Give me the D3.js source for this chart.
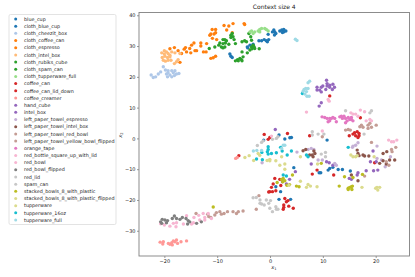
<!DOCTYPE html>
<html>
<head>
<meta charset="utf-8">
<script src="https://cdn.jsdelivr.net/npm/d3@7"></script>
<style>
    html, body { margin: 0; padding: 0; background: #fff; }
    svg { display: block; font-family: "DejaVu Sans", sans-serif; }
</style>
</head>
<body>
<svg id="chart" width="415" height="277"></svg>
<script>
const categories = [
    "blue_cup", "cloth_blue_cup", "cloth_cheezit_box", "cloth_coffee_can", "cloth_espresso",
    "cloth_intel_box", "cloth_rubiks_cube", "cloth_spam_can", "cloth_tupperware_full",
    "coffee_can", "coffee_can_lid_down", "coffee_creamer", "hand_cube", "intel_box",
    "left_paper_towel_espresso", "left_paper_towel_intel_box", "left_paper_towel_red_bowl",
    "left_paper_towel_yellow_bowl_flipped", "orange_tape", "red_bottle_square_up_with_lid",
    "red_bowl", "red_bowl_flipped", "red_lid", "spam_can", "stacked_bowls_8_with_plastic",
    "stacked_bowls_8_with_plastic_flipped", "tupperware", "tupperware_16oz", "tupperware_full"
];

const palette = [
    "#1f77b4", "#1f77b4", "#aec7e8", "#ff7f0e", "#ff7f0e", "#ffbb78", "#2ca02c", "#2ca02c", "#98df8a",
    "#d62728", "#d62728", "#ff9896", "#9467bd", "#9467bd", "#c5b0d5", "#8c564b", "#c49c94", "#c49c94",
    "#e377c2", "#f7b6d2", "#f7b6d2", "#7f7f7f", "#c7c7c7", "#c7c7c7", "#bcbd22", "#dbdb8d", "#dbdb8d",
    "#17becf", "#9edae5"
];

const xTicks = [-20, -10, 0, 10, 20];
const yTicks = [-30, -20, -10, 0, 10, 20, 30, 40];

const blueCup = [[-1.2,-.55],[2.8,-.2],[3.75,.2],[4.05,.3],[1.7,1.1],[10.8,-.55],[11.3,-9.75],[11.9,-9.4],[12.9,-10.1],[13.7,-10.1],[15.2,-10.6],[4.5,-9.5],[9.3,-11.15],[9.6,-11.15],[11,-10.3],[1.1,-15.7],[2,-17.3],[1.7,-19.8],[3.9,-19.8]];
const clothBlueCup = [[-7.6,27.4],[-7.4,26.7],[-7.15,26.3],[-4.3,29.7],[-3.8,30.3],[-3.2,30.6],[-2.1,31.7],[-1.6,31.7],[-1.1,32.1],[-.7,31.7],[-.25,32.1],[-.35,33.8],[-.5,31.4],[-3.2,30],[-4.2,29.4],[.46,34.6],[.72,35.2],[.9,34.6],[1.1,34.1],[.84,33.6],[1.85,34.9],[2.23,35.2],[2.6,35.4],[3,34.9],[2.35,34.4],[2.6,34.6]];
const clothCheezitBox = [[-22.5,20.6],[-22.1,19.8],[-21.65,20],[-21.15,20.9],[-20.7,21.6],[-20.2,23.3],[-19.8,22.2],[-19.3,22],[-18.6,22],[-18,22],[-19.6,20.9],[-19.4,20],[-18.95,20.6],[-18.6,20],[-18.1,20.4],[-17.7,20.9],[-17.25,21.1],[-19.3,21.3],[-18.3,21.3]];
const clothCoffeeCan = [[-18.95,29.1],[-18.1,29.5],[-17.4,28.5],[-17.05,24.7],[-16.75,27.6],[-16.25,29],[-16,29.5],[-15.8,28.1],[-15.2,29.2],[-15,27.8],[-14.85,30.3],[-14.4,31],[-14.2,28.5],[-13.9,28.5],[-13.1,31],[-13.1,30],[-12.6,28.1],[-12.1,28.1],[-12,30.8]];
const clothEspresso = [[-11.2,26],[-10.75,26.2],[-10.3,26.7],[-10.95,35.4],[-11.2,33.9],[-10.3,35.4],[-10.6,33.9],[-10.3,34.3],[-11.4,33.5],[-10.9,32.5],[-10.1,32.1],[-8.7,36.7],[-8.2,35.2],[-7.8,36.5],[-7,37.3],[-7.15,34.3],[-4.9,37.3],[-4.8,37]];
const clothIntelBox = [[-20.5,27.8],[-20,28.5],[-19.6,28.1],[-19.3,27.6],[-20.4,26.3],[-19.9,26.7],[-19.4,26.3],[-18.95,26.5],[-20.2,25.4],[-19.8,25.1],[-19.3,25.4],[-18.75,25.4],[-18.1,24.3],[-17.7,24.9],[-17.4,25.6],[-17.05,27.6],[-18,27.8],[-18.6,28.1],[-18.95,27],[-20,27.4]];
const clothRubiksCube = [[-11.5,29.2],[-10.45,29.7],[-9.7,30.3],[-9.5,31],[-9.2,29.7],[-8.9,32.1],[-8.55,32.1],[-8.25,31.7],[-8.9,30.8],[-8.45,31],[-8.9,29.4],[-8.55,29.7],[-7.8,30.6],[-7.4,32.8],[-7.15,34.1],[-7,33],[-6.8,32.1],[-6.55,30.8],[-7.4,33.5],[-5.3,31.4],[-4.8,31.7],[-4.45,31.4]];
const clothSpamCan = [[-6.55,25.2],[-6.15,25.6],[-5.7,26],[-5.4,25.6],[-5.1,26.5],[-5.3,28.1],[-5.3,25.2],[-6,25.2],[-4.3,27.8],[-3.8,28.7],[-3.5,29.7],[-3.2,30.3],[-2.9,29.2],[-2.05,29.1],[-4,34.1],[-3.65,33],[-3.5,31.9],[-3.4,29.1],[-3,29.7]];
const clothTupperwareFull = [[-3.8,34.6],[-3.5,34.9],[-2.9,34.6],[-2.25,34.9],[-1.95,35.4],[-1.6,35.7],[-1,35.7],[-.7,35.4],[-.35,34.9],[-3.2,34.1],[-1.95,34.6]];
const coffeeCan = [[-1.1,1.3],[-.35,-.3],[-.05,.3],[-5.9,-5.6],[7.5,.85],[3.3,1.6],[8,-11.6],[8.9,-10.3],[12.05,-11.9],[.9,-13],[1.85,-13.3],[.6,-14.8],[.27,-15.9],[-.04,-17.3],[.46,-17.3],[1.1,-17],[2.04,-15.3],[-.25,-17.4]];
const coffeeCanLidDown = [[2.8,-19.5],[2.6,-21.65],[2.5,-23],[2.6,-22.4],[3.1,-20.6],[3.4,-20.2],[3.55,-22],[4.4,-22.7],[15,.85],[15.7,1.4],[16,1.85],[16.5,2.2],[16.85,1.6],[16.2,.85],[16.85,.85],[16.65,.3],[19.8,-7.9],[17.1,6.7],[11.3,13.8]];
const coffeeCreamer = [[-20.8,-33.7],[-20.2,-33.55],[-20.3,-34.3],[-19.25,-34.1],[-18.95,-34.4],[-18.5,-34.6],[-18,-33.55],[-17.7,-33],[-17.5,-34.1],[-18.3,-33.3],[-16.85,-33.55],[-15.8,-33.3],[-18.6,-33.9],[-6.5,-6.5],[-6.2,-6.2]];
const handCube = [[8.9,16.6],[8.9,15.7],[9.4,15.7],[9.7,16.6],[9.7,15.1],[10,17],[10.55,15.9],[10.7,18.9],[10.8,17.8],[10.8,17],[11.3,17.3],[11.3,16.6],[11.9,17.6],[12.2,16.6],[11.8,15.9],[9.3,10.5],[9.7,11.6]];
const intelBox = [[1,2.9],[7.8,-8.3],[10.7,-7.6],[11.2,-7.9],[11.9,-8.7],[4.8,-10.8],[3.7,-13.3],[15,-13],[15.4,-13.3],[19.5,-4.1],[19,-7.6],[20.1,-7.6],[19.6,-10.5],[20.4,-10.3],[18.2,-10.5],[16.65,-11.15],[16.5,-11.9],[2.35,-14.1],[3.1,-14.8]];
const leftPaperTowelEspresso = [[5.1,-4.45],[9.1,-7],[9.9,-7],[12.25,-8.1],[12.55,-8.7],[7.2,-3.6],[7.8,-3.25],[8.3,-3.6],[15.7,-2.5],[16.2,-2.2],[16.65,-1.4],[15.6,-2.9],[20.25,-2.5],[20.25,-6.5],[21.1,-7],[22.8,-5.96],[21.8,-9.2],[-1.5,-7.9]];
const leftPaperTowelIntelBox = [[6.26,-4],[6.76,-3.6],[7.5,-5.4],[8,-5.4],[8.5,-4.9],[8.15,-5.96],[8.3,-4.1],[16.5,-3.8],[16.65,-4.9],[16.85,-5.6],[17.6,-5.4],[17.9,-5.7],[18.7,-5.7],[21.4,-4.9],[22.1,-4.3],[23.6,-7],[21.4,-7.26],[20.75,-8.1],[22,-8.3],[22.64,-7],[16.65,-13.75],[15.4,-11.9]];
const leftPaperTowelRedBowl = [[-14,-24.4],[-11.8,-24.6],[-11.6,-25.4],[-11.2,-25.7],[-10.45,-24.9],[-10.15,-24.1],[-9.5,-23.8],[-9.2,-24.6],[-8.7,-24.4],[-8.05,-23.8],[-7,-23.8],[-6.35,-24.4],[-6,-23.8],[-5.1,-23.6],[-2.6,-23],[-2.1,-18.6]];
const leftPaperTowelYellowBowlFlipped = [[14.3,2.7],[14.8,2.9],[15.2,2.7],[17,3.8],[17.3,4.3],[17.6,3.6],[18.55,4.3],[18.9,4.9],[19.2,3.6],[20.1,4.3],[18.55,3.25],[9.9,.55],[19.2,-1.3],[23,-3.6],[23.8,-2.9],[23.1,-4.3],[22,-7.6],[22.5,-8.7],[17.9,-12.25]];
const orangeTape = [[9.85,7],[10.35,6.8],[10.8,6.5],[11,5.4],[11.3,6.5],[11.6,6.5],[11.9,6.8],[12.25,6.5],[12.55,5.4],[13.2,7],[13.5,7.2],[13.7,6.5],[14,7.2],[14.3,6.5],[14.6,5.7],[14.8,6.8],[15.1,6.15],[15.4,6.15],[15.7,5.7],[14.3,5.1],[15.4,6.8],[11.3,5.7]];
const redBottleSquareUpWithLid = [[6.9,8.55],[15.3,8.3],[15.7,7.9],[16.2,7.9],[17.1,9.2],[17.9,8.65],[16.65,7.2],[18.2,5.7],[18.9,6.15],[19.2,5.7],[22.45,-.55],[23,-1.1],[23.4,-1.1],[24,-.55],[11,12.65],[11.2,12.1],[9.9,2.4],[.27,.75]];
const redBowl = [[-20.7,-27.7],[-20,-28.15],[-18.95,-28.5],[-18.3,-27.6],[-17.8,-28.7],[-17.7,-27.4],[-16.4,-27.8],[-15.8,-25.1],[-14.85,-27.8],[-14.5,-27.4],[-14.4,-25.7],[-13.5,-25],[-13.3,-26.5],[-12.65,-24.4],[-12.35,-25.7],[-12.35,-26.5],[-11.7,-24.4],[-11.1,-26]];
const redBowlFlipped = [[-20.7,-27.1],[-20.4,-26.3],[-19.9,-26.5],[-19.4,-26.7],[-18.5,-26],[-18.1,-25.2],[-17.7,-26],[-17.05,-26.3],[-16.6,-25.7],[-15.9,-26],[-15.5,-26.7],[-15.2,-27.1],[-15.6,-27.8],[-13.9,-27.6],[-13,-27.1],[-20.5,-27.6],[-19.6,-27.4]];
const redLid = [[-3.2,-19.3],[-2.6,-19.2],[-1.9,-20],[-1.6,-21.3],[-1.1,-21.65],[-.7,-20],[-.25,-21.1],[-1.9,-21.1],[.09,-20.2],[-.04,-22.7],[.46,-23.8],[1.1,-22.2],[1.2,-23],[1.5,-23]];
const spamCan = [[-1.6,-1.3],[-2.4,-2.3],[-1.3,-.8],[.46,-.3],[1.2,0],[1.5,.55],[9.1,1.4],[8,2.15],[8,1.1],[9.7,-5.1],[10.5,-4.55],[10.5,-5.95],[10.2,1.4],[14.3,9],[19.2,9],[18.9,8.3],[17.8,1.4]];
const stackedBowls = [[-10.75,-22.3],[9.7,-8.1],[14.1,-12.45],[15.7,-12.7],[2.5,-13],[2.2,-13.3],[2.8,-13.75],[4.25,-11.9],[17.5,-11.7],[1.35,-14.3],[3.2,-15.2],[3.7,-15],[2.4,-14.1],[5,-15.5],[5.5,-15.7],[13.1,-15.5],[14.8,-16.2],[15.6,-15.5],[14.8,-16.6],[15.5,-16.6],[15.4,-15.7],[15.1,-15.9]];
const stackedBowlsFlipped = [[-4.75,-6.2],[-3.95,-5.6],[-3.1,-7.2],[-2.25,-4.9],[-1.95,-5.5],[-.55,-7.2],[-.05,-6.8],[-.04,-7.26],[1.1,-7.26],[2.2,-5.96],[2.8,-8.3],[2.8,-10],[1.85,-8.7],[5.75,-5.96],[9,-8.3]];
const tupperware = [[15.3,-5.4],[15.7,-5.96],[16.2,-5.96],[16.5,-5.6],[19.7,-5.96],[6.9,-15.9],[7.2,-14.95],[7.65,-15.5],[8.9,-15.7],[17.4,-15.9],[20,-16.2],[20.4,-16.8],[20.75,-15.9],[20.25,-15.9],[3.6,-15.2],[5.75,-13.9]];
const tupperware16oz = [[-2.55,-6.7],[-1.45,-6.9],[-.35,-2.7],[-.35,-3.6],[-.5,-4.3],[-.35,-5.1],[-1.55,-4.55],[.27,-4.9],[1.2,-4.65],[2.3,-4.1],[4.05,-4.1],[3.25,-5.4],[2,-2.9],[6.9,-5.4],[7.2,-5.96],[14.8,-2.9],[2.5,-11.9],[3.1,-12.2],[6.13,14.6]];
const tupperwareFull = [[4.8,32.2],[5.1,31.8],[7.2,18.1],[7.5,18.6],[6.45,15.9],[6.76,16.2],[7.2,16.2],[6.26,15.3],[6.6,14.4],[7,13.7],[7.4,13.7],[6.9,15.2],[-3.15,-4.1],[-2.5,-3.9],[-1.6,-3.9],[2.5,-2.2],[2.8,-2.2],[2.2,-3.3]];

const seriesValues = [
    blueCup, clothBlueCup, clothCheezitBox, clothCoffeeCan, clothEspresso, clothIntelBox,
    clothRubiksCube, clothSpamCan, clothTupperwareFull, coffeeCan, coffeeCanLidDown, coffeeCreamer,
    handCube, intelBox, leftPaperTowelEspresso, leftPaperTowelIntelBox, leftPaperTowelRedBowl,
    leftPaperTowelYellowBowlFlipped, orangeTape, redBottleSquareUpWithLid, redBowl, redBowlFlipped,
    redLid, spamCan, stackedBowls, stackedBowlsFlipped, tupperware, tupperware16oz, tupperwareFull
];

const margin = { left: 139, right: 5.5, top: 12.5, bottom: 21 };
const width = 415;
const height = 277;

const x = d3.scaleLinear().domain([-24.8, 26.4]).range([margin.left, width - margin.right]);
const y = d3.scaleLinear().domain([-38.2, 40.9]).range([height - margin.bottom, margin.top]);

const svg = d3.select("#chart");

// axes first, the frame goes over the points at the end
const xAxis = svg.append("g")
    .attr("transform", `translate(0,${height - margin.bottom})`)
    .call(d3.axisBottom(x).tickValues(xTicks).tickSize(2).tickPadding(1.5));

const yAxis = svg.append("g")
    .attr("transform", `translate(${margin.left},0)`)
    .call(d3.axisLeft(y).tickValues(yTicks).tickSize(2).tickPadding(1.5));

[xAxis, yAxis].forEach(axis => {
    axis.select(".domain").remove();
    axis.selectAll("line").attr("stroke", "#333").attr("stroke-width", 0.5);
    axis.selectAll("text").attr("fill", "#222").style("font-size", "5px").style("font-family", "DejaVu Sans");
});

seriesValues.forEach((points, i) => {
    svg.append("g")
        .selectAll("circle")
        .data(points)
        .enter()
        .append("circle")
        .attr("cx", d => x(d[0]))
        .attr("cy", d => y(d[1]))
        .attr("r", 1.7)
        .attr("fill", palette[i]);
});

svg.append("rect")
    .attr("x", margin.left)
    .attr("y", margin.top)
    .attr("width", width - margin.left - margin.right)
    .attr("height", height - margin.top - margin.bottom)
    .attr("fill", "none")
    .attr("stroke", "#808080")
    .attr("stroke-width", 0.9);

svg.append("text")
    .attr("x", (margin.left + width - margin.right) / 2)
    .attr("y", 9)
    .attr("text-anchor", "middle")
    .attr("fill", "#222")
    .style("font-size", "6px")
    .text("Context size 4");

const xLabel = svg.append("text")
    .attr("x", 274)
    .attr("y", 269)
    .attr("text-anchor", "middle")
    .attr("fill", "#222")
    .style("font-size", "5px");
xLabel.append("tspan").style("font-style", "italic").text("x");
xLabel.append("tspan").attr("dy", 1).style("font-size", "3.6px").text("1");

const yLabel = svg.append("text")
    .attr("transform", "translate(122,135) rotate(-90)")
    .attr("text-anchor", "middle")
    .attr("fill", "#222")
    .style("font-size", "5px");
yLabel.append("tspan").style("font-style", "italic").text("x");
yLabel.append("tspan").attr("dy", 1).style("font-size", "3.6px").text("2");

// legend
const legend = svg.append("g");

legend.append("rect")
    .attr("x", 9)
    .attr("y", 14.5)
    .attr("width", 107)
    .attr("height", 210)
    .attr("rx", 1.5)
    .attr("fill", "#fff")
    .attr("stroke", "#dcdcdc")
    .attr("stroke-width", 0.8);

const row = legend.selectAll("g")
    .data(categories)
    .enter()
    .append("g")
    .attr("transform", (d, i) => `translate(0,${19 + i * 7.18})`);

row.append("circle")
    .attr("cx", 15.7)
    .attr("r", 1.5)
    .attr("fill", (d, i) => palette[i]);

row.append("text")
    .attr("x", 24)
    .attr("y", 1.7)
    .attr("fill", "#222")
    .style("font-size", "4.85px")
    .text(d => d);
</script>
</body>
</html>
